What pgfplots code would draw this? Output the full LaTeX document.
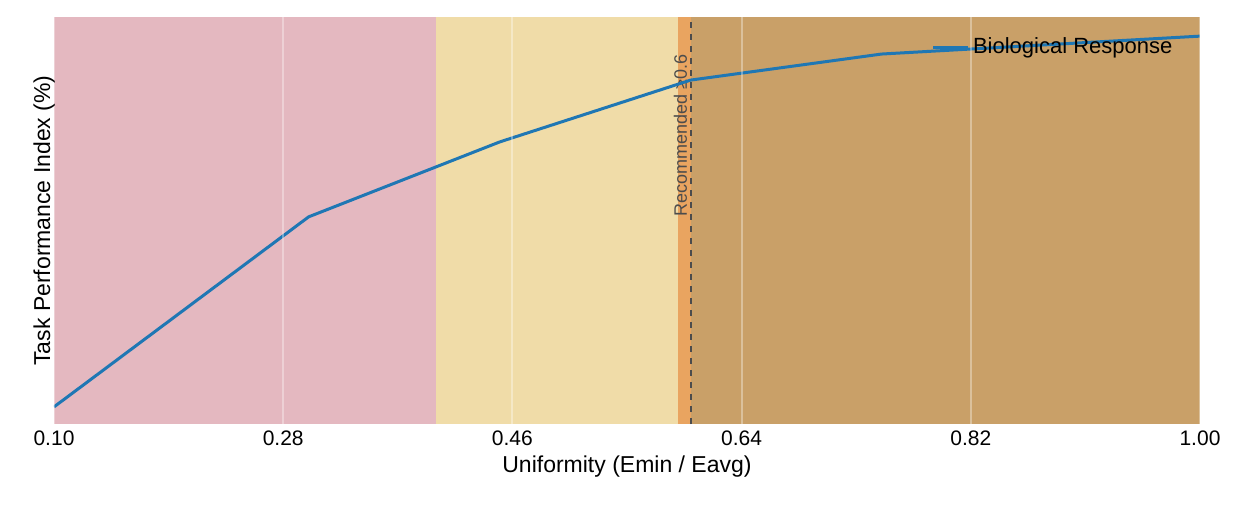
\documentclass[border=0pt]{standalone}
\usepackage{pgfplots}
\pgfplotsset{compat=1.18}
\usepackage{fontspec}
\setmainfont{Liberation Sans}
\definecolor{bred}{HTML}{E4B8C0}
\definecolor{byel}{HTML}{F0DCA8}
\definecolor{bora}{HTML}{E9A460}
\definecolor{bbro}{HTML}{C9A068}
\definecolor{lblue}{HTML}{1F77B4}
\begin{document}
\begin{tikzpicture}
\path (0,0) rectangle (621pt,260pt);
\begin{axis}[at={(27pt,48pt)},anchor=south west,
 width=573pt,height=203.5pt,scale only axis,
 xmin=0.1,xmax=1.0,ymin=0,ymax=100,
 xtick={0.10,0.28,0.46,0.64,0.82,1.00},ytick=\empty,
 xticklabel style={/pgf/number format/.cd,fixed,fixed zerofill,precision=2,assume math mode=true},
 tick label style={font=\fontsize{10.5}{12}\selectfont},
 xlabel={Uniformity (Emin / Eavg)},ylabel={Task Performance Index (\%)},
 label style={font=\fontsize{11.5}{13}\selectfont},
 xlabel style={yshift=2pt},ylabel style={yshift=-4pt},
 axis line style={draw=none},major tick length=0pt,
 xmajorgrids,grid style={white,opacity=0.35,line width=1pt},
 axis on top,
 legend style={draw=none,fill=none,at={(0.985,0.97)},anchor=north east,font=\fontsize{11}{13}\selectfont},
 legend cell align=left,
]
\addplot[fill=bred,draw=none,forget plot] coordinates {(0.1,0)(0.4,0)(0.4,100)(0.1,100)} -- cycle;
\addplot[fill=byel,draw=none,forget plot] coordinates {(0.4,0)(0.59,0)(0.59,100)(0.4,100)} -- cycle;
\addplot[fill=bora,draw=none,forget plot] coordinates {(0.59,0)(0.6,0)(0.6,100)(0.59,100)} -- cycle;
\addplot[fill=bbro,draw=none,forget plot] coordinates {(0.6,0)(1.0,0)(1.0,100)(0.6,100)} -- cycle;
\addplot[dashed,black!70,line width=0.9pt,forget plot] coordinates {(0.6,0)(0.6,100)};
\node[rotate=90,anchor=east,text=black!70,font=\fontsize{9}{10}\selectfont] at (axis cs:0.592,92.5) {Recommended ≥0.6};
\addplot[lblue,line width=1.5pt] coordinates {(0.1,4.2)(0.3,50.9)(0.45,69.3)(0.6,84.5)(0.75,90.9)(1.0,95.3)};
\addlegendentry{Biological Response}
\end{axis}
\end{tikzpicture}
\end{document}
